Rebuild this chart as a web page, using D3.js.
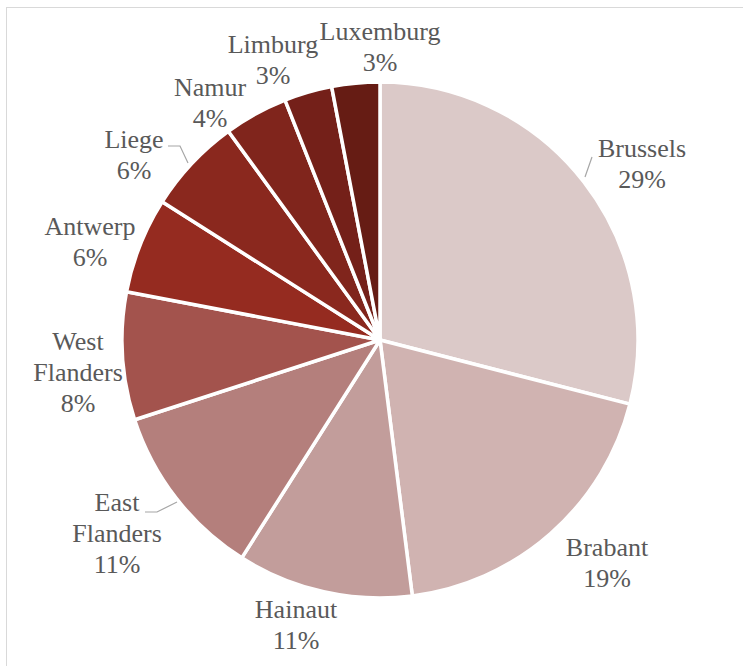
<!DOCTYPE html>
<html><head><meta charset="utf-8">
<script src="https://cdn.jsdelivr.net/npm/d3@7"></script>
<style>
  svg, svg text { font-family: "Times New Roman", "Liberation Serif", Times, serif !important; }
</style>
</head>
<body style="margin:0">
<svg id="chart" width="743" height="666" font-family="Times New Roman, Liberation Serif, serif"></svg>
<script>
// Share of records by province
const provinces = ["Brussels", "Brabant", "Hainaut", "East Flanders", "West Flanders",
                   "Antwerp", "Liege", "Namur", "Limburg", "Luxemburg"];
const shares = [29, 19, 11, 11, 8, 6, 6, 4, 3, 3];
const sliceColors = ["#dbc9c8", "#d0b3b1", "#c29d9b", "#b47f7c", "#a3534d",
                     "#952b20", "#8a281e", "#80251c", "#742019", "#661c14"];

// Label anchors (line-1 baseline) and optional leader lines
const labelLayout = {
  "Brussels":      { x: 642, y: 157 },
  "Brabant":       { x: 607, y: 556 },
  "Hainaut":       { x: 296, y: 618 },
  "East Flanders": { x: 117, y: 511, leader: [[145, 512], [157, 512], [177, 502]] },
  "West Flanders": { x: 78,  y: 350 },
  "Antwerp":       { x: 90,  y: 235 },
  "Liege":         { x: 134, y: 148, leader: [[168, 146], [180, 146], [188, 163]] },
  "Namur":         { x: 210, y: 96 },
  "Limburg":       { x: 273, y: 53 },
  "Luxemburg":     { x: 380, y: 40 }
};
const brusselsLeader = [[592, 157], [585, 177]];

const svg = d3.select("#chart");

// chart area frame
svg.append("rect")
  .attr("x", 6.5).attr("y", 7.5)
  .attr("width", 900).attr("height", 900)
  .attr("fill", "#fff")
  .attr("stroke", "#d9d9d9")
  .attr("stroke-width", 1);

const cx = 380, cy = 340, radius = 258;

const data = provinces.map((p, i) => ({ name: p, value: shares[i], color: sliceColors[i] }));

const pie = d3.pie().value(d => d.value).sort(null);
const arc = d3.arc().innerRadius(0).outerRadius(radius);

const g = svg.append("g").attr("transform", `translate(${cx},${cy})`);

g.selectAll("path.slice")
  .data(pie(data))
  .join("path")
  .attr("class", "slice")
  .attr("d", arc)
  .attr("fill", d => d.data.color)
  .attr("stroke", "#ffffff")
  .attr("stroke-width", 3.5)
  .attr("stroke-linejoin", "round");

// leader lines
const line = d3.line();
const leaders = [brusselsLeader];
provinces.forEach(p => { if (labelLayout[p].leader) leaders.push(labelLayout[p].leader); });
svg.selectAll("path.leader")
  .data(leaders)
  .join("path")
  .attr("class", "leader")
  .attr("d", d => line(d))
  .attr("fill", "none")
  .attr("stroke", "#a6a6a6")
  .attr("stroke-width", 1.2);

// data labels: name (possibly wrapped) + percentage
const lineGap = 31;
data.forEach(d => {
  const pos = labelLayout[d.name];
  const lines = d.name.split(" ").concat([d.value + "%"]);
  lines.forEach((s, i) => {
    svg.append("text")
      .attr("x", pos.x)
      .attr("y", pos.y + i * lineGap)
      .attr("text-anchor", "middle")
      .attr("fill", "#595959")
      .attr("font-family", "Times New Roman, Liberation Serif, serif")
      .style("font-family", `"Times New Roman", "Liberation Serif", serif`)
      .style("font-size", "26px")
      .text(s);
  });
});
</script></body></html>
